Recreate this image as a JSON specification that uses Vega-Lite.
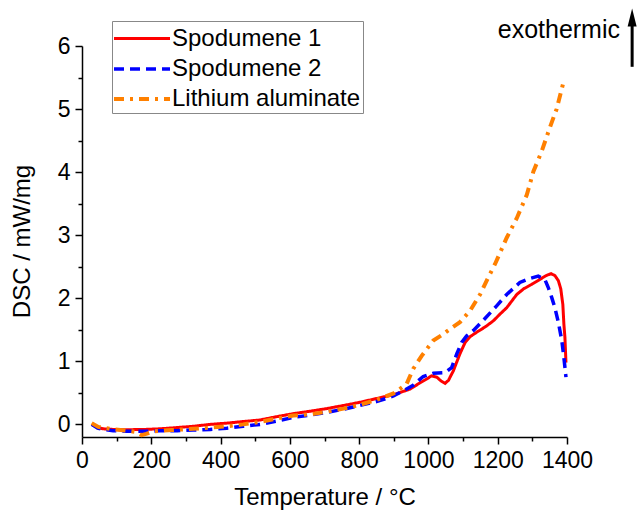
{
  "$schema": "https://vega.github.io/schema/vega-lite/v6.json",
  "width": 485,
  "height": 391,
  "autosize": {"type": "none"},
  "padding": {"left": 82, "top": 46, "right": 75, "bottom": 78},
  "background": "white",
  "config": {
    "view": {"stroke": null},
    "font": "Liberation Sans",
    "axis": {
      "grid": false,
      "domainColor": "black",
      "domainWidth": 1.5,
      "tickColor": "black",
      "tickWidth": 1.5,
      "labelColor": "black",
      "titleColor": "black",
      "labelFont": "Liberation Sans",
      "titleFont": "Liberation Sans",
      "labelFontSize": 23,
      "titleFontSize": 24,
      "titleFontWeight": "normal",
      "labelOverlap": false,
      "labelFlush": false
    }
  },
  "datasets": {
    "dsc": [
      {"series": "Spodumene 1", "T": 28, "DSC": 0.0},
      {"series": "Spodumene 1", "T": 45, "DSC": -0.05},
      {"series": "Spodumene 1", "T": 61, "DSC": -0.07},
      {"series": "Spodumene 1", "T": 90, "DSC": -0.08},
      {"series": "Spodumene 1", "T": 129, "DSC": -0.085},
      {"series": "Spodumene 1", "T": 180, "DSC": -0.08},
      {"series": "Spodumene 1", "T": 225, "DSC": -0.07},
      {"series": "Spodumene 1", "T": 275, "DSC": -0.05},
      {"series": "Spodumene 1", "T": 321, "DSC": -0.03},
      {"series": "Spodumene 1", "T": 370, "DSC": 0.0},
      {"series": "Spodumene 1", "T": 418, "DSC": 0.02},
      {"series": "Spodumene 1", "T": 465, "DSC": 0.045},
      {"series": "Spodumene 1", "T": 514, "DSC": 0.07},
      {"series": "Spodumene 1", "T": 560, "DSC": 0.12},
      {"series": "Spodumene 1", "T": 610, "DSC": 0.17},
      {"series": "Spodumene 1", "T": 660, "DSC": 0.21},
      {"series": "Spodumene 1", "T": 706, "DSC": 0.25},
      {"series": "Spodumene 1", "T": 755, "DSC": 0.3},
      {"series": "Spodumene 1", "T": 802, "DSC": 0.35},
      {"series": "Spodumene 1", "T": 850, "DSC": 0.41},
      {"series": "Spodumene 1", "T": 899, "DSC": 0.47},
      {"series": "Spodumene 1", "T": 947, "DSC": 0.56},
      {"series": "Spodumene 1", "T": 976, "DSC": 0.66},
      {"series": "Spodumene 1", "T": 995, "DSC": 0.72},
      {"series": "Spodumene 1", "T": 1009, "DSC": 0.77},
      {"series": "Spodumene 1", "T": 1024, "DSC": 0.75},
      {"series": "Spodumene 1", "T": 1036, "DSC": 0.69},
      {"series": "Spodumene 1", "T": 1048, "DSC": 0.65},
      {"series": "Spodumene 1", "T": 1058, "DSC": 0.7},
      {"series": "Spodumene 1", "T": 1072, "DSC": 0.85},
      {"series": "Spodumene 1", "T": 1091, "DSC": 1.12},
      {"series": "Spodumene 1", "T": 1106, "DSC": 1.3},
      {"series": "Spodumene 1", "T": 1120, "DSC": 1.39},
      {"series": "Spodumene 1", "T": 1139, "DSC": 1.46},
      {"series": "Spodumene 1", "T": 1165, "DSC": 1.55},
      {"series": "Spodumene 1", "T": 1187, "DSC": 1.64},
      {"series": "Spodumene 1", "T": 1205, "DSC": 1.74},
      {"series": "Spodumene 1", "T": 1226, "DSC": 1.85},
      {"series": "Spodumene 1", "T": 1255, "DSC": 2.06},
      {"series": "Spodumene 1", "T": 1275, "DSC": 2.15},
      {"series": "Spodumene 1", "T": 1298, "DSC": 2.22},
      {"series": "Spodumene 1", "T": 1322, "DSC": 2.3},
      {"series": "Spodumene 1", "T": 1340, "DSC": 2.36},
      {"series": "Spodumene 1", "T": 1354, "DSC": 2.39},
      {"series": "Spodumene 1", "T": 1365, "DSC": 2.36},
      {"series": "Spodumene 1", "T": 1375, "DSC": 2.28},
      {"series": "Spodumene 1", "T": 1382, "DSC": 2.15},
      {"series": "Spodumene 1", "T": 1388, "DSC": 1.9},
      {"series": "Spodumene 1", "T": 1391, "DSC": 1.59},
      {"series": "Spodumene 1", "T": 1394, "DSC": 1.38},
      {"series": "Spodumene 1", "T": 1397, "DSC": 0.98},
      {"series": "Spodumene 2", "T": 28, "DSC": 0.0},
      {"series": "Spodumene 2", "T": 45, "DSC": -0.06},
      {"series": "Spodumene 2", "T": 61, "DSC": -0.08},
      {"series": "Spodumene 2", "T": 90, "DSC": -0.1},
      {"series": "Spodumene 2", "T": 129, "DSC": -0.11},
      {"series": "Spodumene 2", "T": 180, "DSC": -0.11},
      {"series": "Spodumene 2", "T": 225, "DSC": -0.1},
      {"series": "Spodumene 2", "T": 275, "DSC": -0.1},
      {"series": "Spodumene 2", "T": 321, "DSC": -0.09},
      {"series": "Spodumene 2", "T": 370, "DSC": -0.08},
      {"series": "Spodumene 2", "T": 418, "DSC": -0.06},
      {"series": "Spodumene 2", "T": 465, "DSC": -0.03},
      {"series": "Spodumene 2", "T": 514, "DSC": 0.0},
      {"series": "Spodumene 2", "T": 560, "DSC": 0.05},
      {"series": "Spodumene 2", "T": 610, "DSC": 0.11},
      {"series": "Spodumene 2", "T": 660, "DSC": 0.15},
      {"series": "Spodumene 2", "T": 706, "DSC": 0.19},
      {"series": "Spodumene 2", "T": 755, "DSC": 0.24},
      {"series": "Spodumene 2", "T": 802, "DSC": 0.3},
      {"series": "Spodumene 2", "T": 850, "DSC": 0.36},
      {"series": "Spodumene 2", "T": 899, "DSC": 0.45},
      {"series": "Spodumene 2", "T": 930, "DSC": 0.54},
      {"series": "Spodumene 2", "T": 956, "DSC": 0.62},
      {"series": "Spodumene 2", "T": 985, "DSC": 0.76},
      {"series": "Spodumene 2", "T": 1014, "DSC": 0.81},
      {"series": "Spodumene 2", "T": 1048, "DSC": 0.82},
      {"series": "Spodumene 2", "T": 1067, "DSC": 0.9},
      {"series": "Spodumene 2", "T": 1082, "DSC": 1.12},
      {"series": "Spodumene 2", "T": 1096, "DSC": 1.3},
      {"series": "Spodumene 2", "T": 1110, "DSC": 1.4},
      {"series": "Spodumene 2", "T": 1130, "DSC": 1.49},
      {"series": "Spodumene 2", "T": 1160, "DSC": 1.66},
      {"series": "Spodumene 2", "T": 1197, "DSC": 1.88},
      {"series": "Spodumene 2", "T": 1226, "DSC": 2.06},
      {"series": "Spodumene 2", "T": 1264, "DSC": 2.25},
      {"series": "Spodumene 2", "T": 1290, "DSC": 2.31},
      {"series": "Spodumene 2", "T": 1317, "DSC": 2.35},
      {"series": "Spodumene 2", "T": 1336, "DSC": 2.3},
      {"series": "Spodumene 2", "T": 1346, "DSC": 2.17},
      {"series": "Spodumene 2", "T": 1356, "DSC": 2.01},
      {"series": "Spodumene 2", "T": 1365, "DSC": 1.85},
      {"series": "Spodumene 2", "T": 1375, "DSC": 1.62},
      {"series": "Spodumene 2", "T": 1385, "DSC": 1.33},
      {"series": "Spodumene 2", "T": 1391, "DSC": 1.06},
      {"series": "Spodumene 2", "T": 1397, "DSC": 0.75},
      {"series": "Lithium aluminate", "T": 28, "DSC": 0.02},
      {"series": "Lithium aluminate", "T": 47, "DSC": -0.04},
      {"series": "Lithium aluminate", "T": 80, "DSC": -0.07},
      {"series": "Lithium aluminate", "T": 129, "DSC": -0.1},
      {"series": "Lithium aluminate", "T": 155, "DSC": -0.12},
      {"series": "Lithium aluminate", "T": 172, "DSC": -0.17},
      {"series": "Lithium aluminate", "T": 185, "DSC": -0.15},
      {"series": "Lithium aluminate", "T": 206, "DSC": -0.11},
      {"series": "Lithium aluminate", "T": 260, "DSC": -0.09},
      {"series": "Lithium aluminate", "T": 321, "DSC": -0.07},
      {"series": "Lithium aluminate", "T": 370, "DSC": -0.05},
      {"series": "Lithium aluminate", "T": 418, "DSC": -0.03},
      {"series": "Lithium aluminate", "T": 465, "DSC": 0.0},
      {"series": "Lithium aluminate", "T": 514, "DSC": 0.04},
      {"series": "Lithium aluminate", "T": 560, "DSC": 0.09},
      {"series": "Lithium aluminate", "T": 610, "DSC": 0.14},
      {"series": "Lithium aluminate", "T": 660, "DSC": 0.16},
      {"series": "Lithium aluminate", "T": 706, "DSC": 0.2},
      {"series": "Lithium aluminate", "T": 755, "DSC": 0.25},
      {"series": "Lithium aluminate", "T": 802, "DSC": 0.31},
      {"series": "Lithium aluminate", "T": 850, "DSC": 0.39},
      {"series": "Lithium aluminate", "T": 899, "DSC": 0.49},
      {"series": "Lithium aluminate", "T": 927, "DSC": 0.6},
      {"series": "Lithium aluminate", "T": 937, "DSC": 0.64},
      {"series": "Lithium aluminate", "T": 956, "DSC": 0.88},
      {"series": "Lithium aluminate", "T": 981, "DSC": 1.09},
      {"series": "Lithium aluminate", "T": 1014, "DSC": 1.33},
      {"series": "Lithium aluminate", "T": 1040, "DSC": 1.42},
      {"series": "Lithium aluminate", "T": 1062, "DSC": 1.51},
      {"series": "Lithium aluminate", "T": 1091, "DSC": 1.62},
      {"series": "Lithium aluminate", "T": 1120, "DSC": 1.8},
      {"series": "Lithium aluminate", "T": 1149, "DSC": 2.06},
      {"series": "Lithium aluminate", "T": 1170, "DSC": 2.3},
      {"series": "Lithium aluminate", "T": 1192, "DSC": 2.54},
      {"series": "Lithium aluminate", "T": 1226, "DSC": 2.96},
      {"series": "Lithium aluminate", "T": 1255, "DSC": 3.27},
      {"series": "Lithium aluminate", "T": 1284, "DSC": 3.64},
      {"series": "Lithium aluminate", "T": 1303, "DSC": 4.01},
      {"series": "Lithium aluminate", "T": 1327, "DSC": 4.33},
      {"series": "Lithium aluminate", "T": 1350, "DSC": 4.7},
      {"series": "Lithium aluminate", "T": 1370, "DSC": 5.0},
      {"series": "Lithium aluminate", "T": 1389, "DSC": 5.41},
      {"series": "Lithium aluminate", "T": 1396, "DSC": 5.45}
    ],
    "anno": [{"label": "exothermic", "T": 1553, "DSC": 6.25}],
    "arrow": [{"T": 1588, "y1": 5.67, "y2": 6.38, "yh": 6.45}]
  },
  "resolve": {"axis": {"x": "independent", "y": "independent"}},
  "layer": [
    {
      "data": {"name": "dsc"},
      "mark": {"type": "point", "opacity": 0},
      "encoding": {
        "x": {"field": "T", "type": "quantitative", "scale": {"domain": [0, 1400], "nice": false, "zero": false},
          "axis": {"orient": "bottom", "values": [100, 300, 500, 700, 900, 1100, 1300], "labels": false, "domain": false, "tickSize": 4, "title": null}},
        "y": {"field": "DSC", "type": "quantitative", "scale": {"domain": [-0.2, 6], "nice": false, "zero": false},
          "axis": {"orient": "left", "values": [0.5, 1.5, 2.5, 3.5, 4.5, 5.5], "labels": false, "domain": false, "tickSize": 4, "title": null}}
      }
    },
    {
      "data": {"name": "dsc"},
      "mark": {"type": "line", "strokeCap": "butt"},
      "encoding": {
        "x": {"field": "T", "type": "quantitative",
          "axis": {"orient": "bottom", "values": [0, 200, 400, 600, 800, 1000, 1200, 1400], "format": "d", "tickSize": 7, "labelPadding": 5, "title": "Temperature / °C", "titleY": 60, "titleBaseline": "middle"}},
        "y": {"field": "DSC", "type": "quantitative",
          "axis": {"orient": "left", "values": [0, 1, 2, 3, 4, 5, 6], "format": "d", "tickSize": 7, "labelPadding": 5, "title": "DSC / mW/mg", "titleX": -60, "titleY": 195, "titleAngle": -90, "titleAlign": "center", "titleBaseline": "middle"}},
        "color": {"field": "series", "type": "nominal",
          "scale": {"domain": ["Spodumene 1", "Spodumene 2", "Lithium aluminate"], "range": ["#FF0000", "#0000FF", "#FF8000"]},
          "legend": {"orient": "none", "legendX": 30, "legendY": -25, "title": null, "symbolType": "M-2,0H2", "symbolSize": 784, "symbolStrokeWidth": 3, "symbolOffset": 12, "labelOffset": 14, "labelFontSize": 24, "labelFont": "Liberation Sans", "labelColor": "black", "labelLimit": 0, "strokeColor": "#888888", "padding": 2, "rowPadding": 2}},
        "strokeDash": {"field": "series", "type": "nominal",
          "scale": {"domain": ["Spodumene 1", "Spodumene 2", "Lithium aluminate"], "range": [[1, 0], [10, 6], [10, 6, 3, 6]]},
          "legend": {"orient": "none", "legendX": 30, "legendY": -25, "title": null, "symbolType": "M-2,0H2", "symbolSize": 784, "symbolStrokeWidth": 3, "symbolOffset": 12, "labelOffset": 14, "labelFontSize": 24, "labelFont": "Liberation Sans", "labelColor": "black", "labelLimit": 0, "strokeColor": "#888888", "padding": 2, "rowPadding": 2}},
        "strokeWidth": {"field": "series", "type": "nominal",
          "scale": {"domain": ["Spodumene 1", "Spodumene 2", "Lithium aluminate"], "range": [3, 4, 3]}, "legend": null}
      }
    },
    {
      "data": {"name": "anno"},
      "mark": {"type": "text", "align": "right", "baseline": "middle", "fontSize": 25, "font": "Liberation Sans", "color": "black"},
      "encoding": {
        "x": {"field": "T", "type": "quantitative", "axis": null},
        "y": {"field": "DSC", "type": "quantitative", "axis": null},
        "text": {"field": "label"}
      }
    },
    {
      "data": {"name": "arrow"},
      "mark": {"type": "rule", "strokeWidth": 3, "color": "black"},
      "encoding": {
        "x": {"field": "T", "type": "quantitative", "axis": null},
        "y": {"field": "y1", "type": "quantitative", "axis": null},
        "y2": {"field": "y2"}
      }
    },
    {
      "data": {"name": "arrow"},
      "mark": {"type": "point", "shape": "M0,-1L0.5,1L-0.5,1Z", "filled": true, "color": "black", "opacity": 1, "size": 324},
      "encoding": {
        "x": {"field": "T", "type": "quantitative", "axis": null},
        "y": {"field": "yh", "type": "quantitative", "axis": null}
      }
    }
  ]
}
